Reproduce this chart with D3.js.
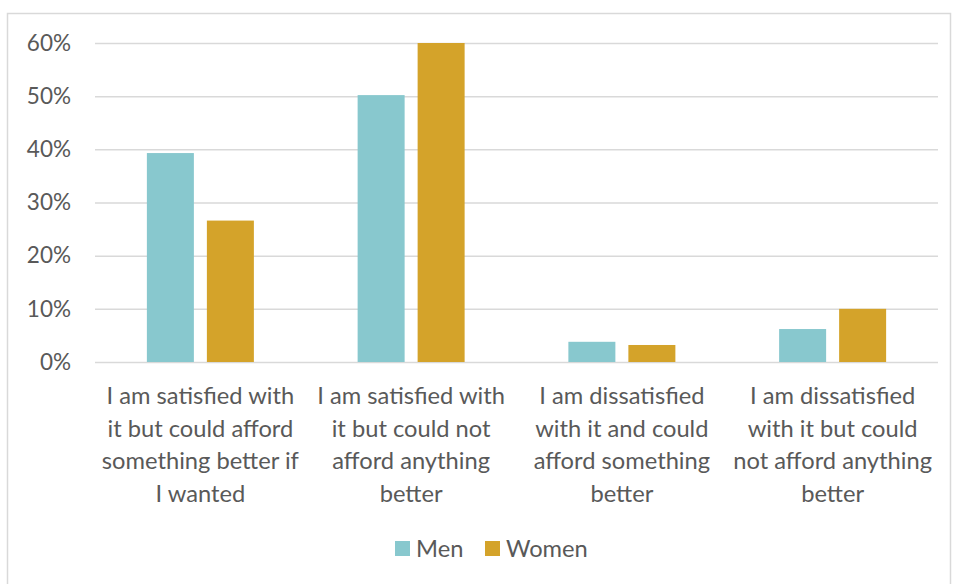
<!DOCTYPE html>
<html><head><meta charset="utf-8">
<script src="https://cdn.jsdelivr.net/npm/d3@7"></script>
<style>body{margin:0;background:#fff}svg{display:block}</style>
</head><body>
<svg id="c" width="954" height="584"></svg>
<script>
const categories = [
  ["I am satisfied with","it but could afford","something better if","I wanted"],
  ["I am satisfied with","it but could not","afford anything","better"],
  ["I am dissatisfied","with it and could","afford something","better"],
  ["I am dissatisfied","with it but could","not afford anything","better"]
];
const seriesNames = ["Men","Women"];
const men = [0.393, 0.502, 0.038, 0.062];
const women = [0.266, 0.600, 0.032, 0.100];
const yTicks = [0,0.1,0.2,0.3,0.4,0.5,0.6];
const colors = ["#88C8CE","#D4A32A"];

(function(){
const svg = d3.select("#c");
const font = "Lato, sans-serif";
const fsY = "22.5px", fs = "23.7px";
const textColor = "#595959";
svg.append("rect").attr("x",7.5).attr("y",13.5).attr("width",943).attr("height",580)
  .attr("fill","#fff").attr("stroke","#d9d9d9").attr("stroke-width",1.5);

const mL=95,mR=938,mT=43,mB=362;
const y = d3.scaleLinear().domain([0,0.6]).range([mB,mT]);
const x0 = d3.scaleBand().domain(d3.range(categories.length)).range([mL,mR]).padding(0);
const bw = x0.bandwidth();
const x1 = d3.scaleBand().domain(seriesNames).range([(bw-107)/2,(bw+107)/2]).paddingInner(0.2167).paddingOuter(0);

const yAxis = d3.axisLeft(y).tickValues(yTicks).tickFormat(d3.format(".0%")).tickSize(-(mR-mL)).tickPadding(24);
const ga = svg.append("g").attr("transform",`translate(${mL},0)`).call(yAxis);
ga.select(".domain").remove();
ga.selectAll(".tick line").attr("stroke","#d9d9d9").attr("stroke-width",1.5);
ga.selectAll(".tick text").attr("fill",textColor).style("font-family",font).style("font-size",fsY);

const data = categories.map((c,i)=>({i, vals:[men[i],women[i]]}));
const g = svg.append("g");
data.forEach(d=>{
  g.selectAll(null).data(d.vals).enter().append("rect")
    .attr("x",(v,j)=>x0(d.i)+x1(seriesNames[j]))
    .attr("y",v=>y(v))
    .attr("width",x1.bandwidth())
    .attr("height",v=>y(0)-y(v))
    .attr("fill",(v,j)=>colors[j]);
});

categories.forEach((lines,i)=>{
  const t = svg.append("text").attr("text-anchor","middle")
    .attr("fill",textColor).style("font-family",font).style("font-size",fs);
  lines.forEach((l,k)=>{
    t.append("tspan").attr("x",x0(i)+bw/2).attr("y",404+k*32.7).text(l);
  });
});

const legX = [395,485];
seriesNames.forEach((s,j)=>{
  svg.append("rect").attr("x",legX[j]).attr("y",541).attr("width",15).attr("height",15).attr("fill",colors[j]);
  svg.append("text").attr("x",legX[j]+21).attr("y",557).attr("fill",textColor)
    .style("font-family",font).style("font-size",fs).text(s);
});
})();
</script>
</body></html>
